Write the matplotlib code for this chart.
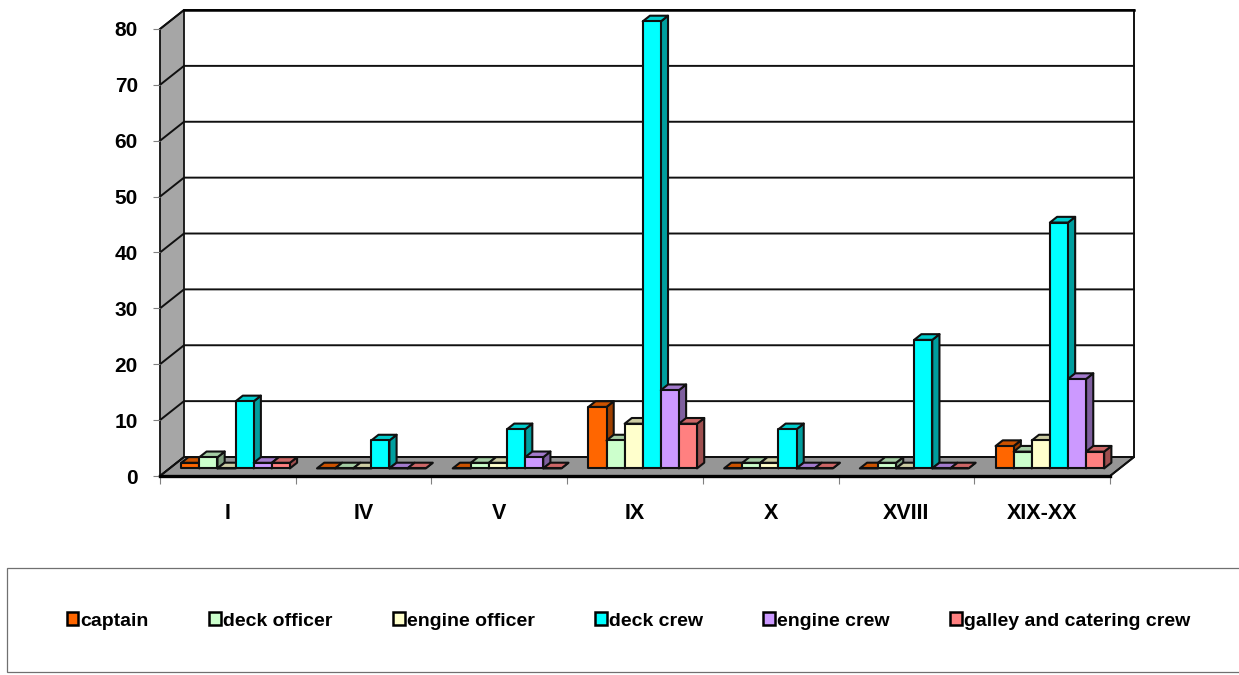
import matplotlib
matplotlib.use('Agg')
import matplotlib.pyplot as plt
from matplotlib.patches import Polygon, Patch, Rectangle

plt.rcParams['font.family'] = ['Liberation Sans', 'DejaVu Sans']
plt.rcParams['font.weight'] = 'bold'

categories = ['I', 'IV', 'V', 'IX', 'X', 'XVIII', 'XIX-XX']
series_names = ['captain', 'deck officer', 'engine officer', 'deck crew',
                'engine crew', 'galley and catering crew']
captain = [1, 0, 0, 11, 0, 0, 4]
deck_officer = [2, 0, 1, 5, 1, 1, 3]
engine_officer = [0, 0, 1, 8, 1, 0, 5]
deck_crew = [12, 5, 7, 80, 7, 23, 44]
engine_crew = [1, 0, 2, 14, 0, 0, 16]
galley_crew = [1, 0, 0, 8, 0, 0, 3]
y_ticks = list(range(0, 90, 10))
colors = ['#FF6600', '#CCFFCC', '#FFFFCC', '#00FFFF', '#CC99FF', '#FF8080']

W, H = 1239, 675
DEPTH_X = 24 / 135.7     # floor depth in category units
DEPTH_Y = 19 / 5.59      # floor depth in value units
BAR_W = 18.1 / 135.7
Z_FRONT = 0.40
Z_BACK = 0.70
PAD = 0.086


def shade(color, k):
    r, g, b = matplotlib.colors.to_rgb(color)
    return (r * k, g * k, b * k)


def pt(x, y, z=0.0):
    return (x + z * DEPTH_X, y + z * DEPTH_Y)


fig = plt.figure(figsize=(W / 100, H / 100), dpi=100)
ax = fig.add_axes([160 / W, (H - 476) / H, 950 / W, 447 / H])
ax.set_xlim(0, 7)
ax.set_ylim(0, 80)
ax.patch.set_visible(False)
for s in ax.spines.values():
    s.set_visible(False)


def poly(points, fc, ec='#101010', lw=1.5, zorder=2):
    ax.add_patch(Polygon(points, closed=True, facecolor=fc, edgecolor=ec,
                         linewidth=lw, clip_on=False, zorder=zorder, joinstyle='round'))


# walls and floor
poly([pt(0, 0), pt(0, 0, 1), pt(0, 80, 1), pt(0, 80)], '#A6A6A6', lw=1.3, zorder=1)
poly([pt(0, 0), pt(7, 0), pt(7, 0, 1), pt(0, 0, 1)], '#969696', lw=1.3, zorder=1)
for v in y_ticks:
    ax.plot(*zip(pt(0, v), pt(0, v, 1), pt(7, v, 1)), color='#101010', lw=1.4,
            clip_on=False, zorder=1.5)
ax.plot(*zip(pt(7, 0), pt(7, 0, 1), pt(7, 80, 1)), color='#101010', lw=1.4,
        clip_on=False, zorder=1.5)
ax.plot(*zip(pt(0, 80, 1), pt(7, 80, 1)), color='black', lw=1.8, clip_on=False, zorder=1.5)
ax.plot([0, 7], [0, 0], color='black', lw=2.4, clip_on=False, zorder=1.6)

# bars, left to right so that each one covers the side of the one before
all_series = [captain, deck_officer, engine_officer, deck_crew, engine_crew, galley_crew]
z = 3
for i in range(len(categories)):
    for j, vals in enumerate(all_series):
        v = vals[i]
        x0 = i + PAD + j * BAR_W
        x1 = x0 + BAR_W
        c = colors[j]
        poly([pt(x1, v, Z_FRONT), pt(x1, 0, Z_FRONT), pt(x1, 0, Z_BACK), pt(x1, v, Z_BACK)],
             shade(c, 0.62), zorder=z)
        poly([pt(x0, v, Z_FRONT), pt(x1, v, Z_FRONT), pt(x1, v, Z_BACK), pt(x0, v, Z_BACK)],
             shade(c, 0.8), zorder=z)
        poly([pt(x0, 0, Z_FRONT), pt(x1, 0, Z_FRONT), pt(x1, v, Z_FRONT), pt(x0, v, Z_FRONT)],
             c, zorder=z)
        z += 1

# axes ticks and labels
ax.set_yticks(y_ticks)
ax.set_xticks(range(8))
ax.set_xticklabels([])
ax.set_xticks([i + 0.5 for i in range(7)], minor=True)
ax.set_xticklabels(categories, minor=True)
ax.tick_params(axis='y', length=5, width=0.8, color='#808080', pad=11, labelsize=15)
ax.tick_params(axis='x', which='major', length=6, width=0.8, color='#808080')
ax.tick_params(axis='x', which='minor', length=0, pad=19.5, labelsize=15.5)

# legend box
fig.add_artist(Rectangle((7 / W, 3 / H), (W + 5 - 7) / W, 104 / H, transform=fig.transFigure,
                         facecolor='white', edgecolor='#707070', linewidth=0.9))
handles = [Patch(facecolor=c, edgecolor='black', linewidth=1.8) for c in colors]
fig.legend(handles, series_names, ncol=6, frameon=False, loc='center',
           bbox_to_anchor=(628.5 / W, (H - 621) / H), fontsize=14,
           handlelength=0.6, handleheight=0.6, handletextpad=0.12,
           columnspacing=3.1, borderpad=0)

fig.savefig('out.png', dpi=100)
